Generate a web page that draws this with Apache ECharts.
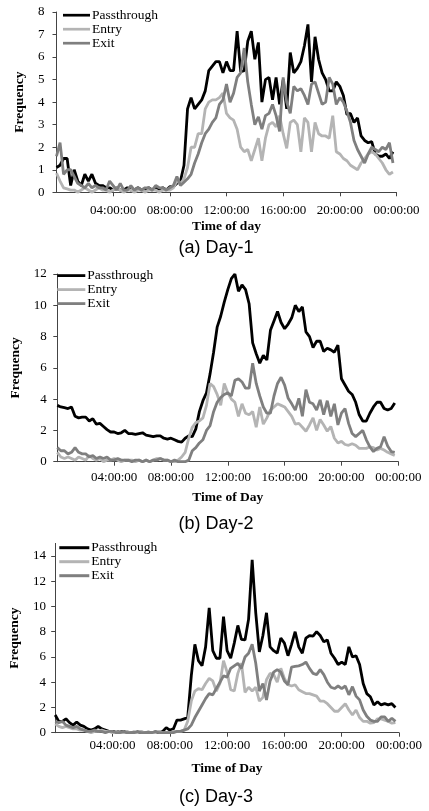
<!DOCTYPE html>
<html>
<head>
<meta charset="utf-8">
<script src="https://cdn.jsdelivr.net/npm/echarts@6/dist/echarts.min.js"></script>
<style>
  html, body { margin: 0; padding: 0; background: #fff; }
  #chart { width: 429px; height: 811px; }
</style>
</head>
<body>
<div id="chart"></div>
<script>
// 数据：每天 96 个 15 分钟时段
var seriesNames = ["Passthrough", "Entry", "Exit"];
var slotHours = 0.25;

var d1Pass = [1.1, 1.2, 1.5, 1.5, 0.3, 1.0, 0.5, 0.3, 0.8, 0.5, 0.8, 0.4, 0.3, 0.3, 0.2, 0.2,
  0.1, 0.2, 0.1, 0.1, 0.2, 0.1, 0.1, 0.2, 0.1, 0.1, 0.2, 0.1, 0.2, 0.1, 0.2, 0.1,
  0.25, 0.25, 0.4, 0.5, 1.2, 3.7, 4.2, 3.7, 3.9, 4.1, 4.5, 5.4, 5.6, 5.8, 5.8, 5.3,
  5.8, 5.4, 5.4, 7.15, 5.35, 5.4, 6.7, 7.15, 5.9, 6.65, 4.0, 5.0, 5.1, 4.1, 5.1, 3.9,
  5.0, 3.7, 6.2, 5.3, 5.5, 5.8, 6.5, 7.45, 4.9, 6.9, 5.9, 5.3, 5.0, 4.5, 4.5, 4.9,
  4.7, 4.3, 3.45, 3.5, 3.1, 3.3, 2.5, 2.3, 2.2, 2.25, 1.7, 1.6, 1.6, 1.7, 1.5, 1.8];
var d1Entry = [0.85, 0.5, 0.2, 0.15, 0.1, 0.1, 0.0, 0.1, 0.2, 0.1, 0.0, 0.1, 0.2, 0.1, 0.1, 0.0,
  0.1, 0.2, 0.1, 0.0, 0.1, 0.1, 0.0, 0.1, 0.1, 0.0, 0.1, 0.1, 0.1, 0.0, 0.1, 0.1,
  0.1, 0.2, 0.5, 0.4, 0.6, 1.1, 2.0, 2.0, 2.6, 2.6, 3.7, 4.0, 4.1, 4.1, 4.2, 4.4,
  3.5, 3.3, 3.2, 2.8, 2.0, 1.8, 1.9, 1.4, 1.9, 2.4, 1.4, 2.4, 3.0, 3.1, 2.9, 3.4,
  2.6, 1.95, 3.1, 3.2, 3.0, 1.8, 3.3, 3.1, 1.8, 3.1, 2.6, 2.5, 2.5, 2.4, 3.4, 1.8,
  1.7, 1.5, 1.4, 1.2, 1.1, 1.0, 1.3, 1.5, 1.7, 1.8, 1.7, 1.5, 1.3, 1.0, 0.8, 0.9];
var d1Exit = [1.6, 2.2, 0.8, 1.0, 1.0, 0.7, 0.4, 0.3, 0.2, 0.4, 0.2, 0.3, 0.2, 0.2, 0.1, 0.5,
  0.3, 0.1, 0.4, 0.1, 0.1, 0.3, 0.1, 0.2, 0.1, 0.2, 0.2, 0.1, 0.3, 0.2, 0.2, 0.1,
  0.2, 0.3, 0.7, 0.3, 0.45, 0.6, 0.8, 1.3, 1.7, 2.2, 2.6, 2.8, 3.1, 3.3, 3.9, 4.1,
  4.8, 4.0, 4.4, 5.1, 5.3, 6.4, 4.9, 3.9, 3.0, 3.35, 2.8, 3.4, 3.5, 3.9, 3.4, 2.7,
  5.1, 4.0, 3.5, 4.7, 4.5, 4.6, 4.3, 3.9, 4.8, 4.9, 4.4, 3.9, 4.0, 5.1, 4.8, 3.9,
  4.2, 4.0, 3.6, 3.1, 2.3, 1.9, 1.6, 1.3, 1.7, 2.0, 1.9, 1.8, 2.0, 1.9, 2.2, 1.3];

var d2Pass = [3.6, 3.5, 3.45, 3.4, 3.5, 2.9, 2.8, 2.85, 2.85, 2.6, 2.75, 2.4, 2.45, 2.25, 2.05, 1.9,
  1.9, 1.8, 1.85, 2.0, 1.8, 1.8, 1.75, 1.8, 1.85, 1.7, 1.65, 1.6, 1.65, 1.65, 1.5, 1.45,
  1.5, 1.4, 1.3, 1.25, 1.5, 1.65, 1.6, 2.1, 3.2, 3.9, 4.4, 5.6, 7.0, 8.6, 9.3, 10.2,
  11.0, 11.7, 12.0, 10.9, 11.3, 11.0, 10.1, 7.6, 6.9, 6.3, 6.8, 6.5, 8.4, 9.0, 9.6, 8.9,
  8.5, 8.8, 9.2, 10.0, 9.6, 9.9, 8.3, 8.0, 7.3, 7.7, 7.7, 7.05, 7.25, 7.15, 7.0, 7.45,
  5.3, 4.9, 4.5, 4.3, 3.8, 3.0, 2.6, 2.6, 3.1, 3.5, 3.8, 3.8, 3.4, 3.3, 3.4, 3.75];
var d2Entry = [0.6, 0.3, 0.2, 0.3, 0.2, 0.1, 0.3, 0.2, 0.1, 0.4, 0.2, 0.1, 0.2, 0.0, 0.1, 0.1,
  0.2, 0.1, 0.0, 0.1, 0.1, 0.1, 0.0, 0.1, 0.0, 0.1, 0.0, 0.1, 0.2, 0.2, 0.1, 0.1,
  0.0, 0.0, 0.1, 0.3, 0.6, 1.5, 2.2, 2.5, 2.6, 2.8, 3.6, 5.0, 4.8, 4.3, 3.6, 5.0,
  4.4, 4.0, 3.8, 2.9, 3.7, 3.1, 3.0, 3.2, 2.2, 3.5, 2.4, 2.8, 3.3, 3.5, 3.7, 3.6,
  3.5, 3.2, 2.9, 2.4, 2.45, 2.2, 1.95, 2.35, 2.8, 2.0, 2.7, 2.35, 1.95, 2.25, 1.5, 1.2,
  1.3, 1.1, 1.05, 1.15, 1.05, 0.85, 0.85, 0.85, 0.95, 0.9, 0.75, 0.85, 0.75, 0.6, 0.5, 0.4];
var d2Exit = [0.9, 0.7, 0.7, 0.5, 0.6, 0.9, 0.6, 0.5, 0.5, 0.3, 0.4, 0.2, 0.3, 0.2, 0.3, 0.1,
  0.1, 0.2, 0.1, 0.1, 0.1, 0.0, 0.1, 0.1, 0.0, 0.1, 0.0, 0.1, 0.1, 0.2, 0.1, 0.1,
  0.0, 0.1, 0.0, 0.0, 0.0, 0.1, 0.7, 0.9, 1.2, 1.4, 2.0, 2.3, 3.2, 3.8, 4.1, 4.3,
  4.4, 4.2, 5.2, 5.3, 5.1, 4.7, 4.7, 6.3, 5.0, 4.2, 3.5, 3.1, 3.1, 4.2, 5.0, 5.4,
  4.9, 4.05, 3.7, 3.3, 4.05, 2.9, 4.6, 3.8, 3.7, 3.3, 3.95, 3.0, 3.9, 2.9, 3.7, 2.35,
  3.1, 3.4, 2.45, 1.8, 1.6, 1.8, 2.0, 1.4, 0.95, 0.65, 0.85, 0.95, 1.6, 1.0, 0.65, 0.6];

var d3Pass = [1.4, 0.9, 0.9, 1.1, 0.8, 0.6, 0.85, 0.6, 0.5, 0.3, 0.2, 0.3, 0.5, 0.3, 0.2, 0.1,
  0.1, 0.1, 0.05, 0.1, 0.05, 0.0, 0.05, 0.0, 0.05, 0.0, 0.05, 0.0, 0.05, 0.0, 0.1, 0.4,
  0.2, 0.3, 1.0, 1.0, 1.1, 1.2, 4.5, 7.0, 5.7, 5.3, 6.8, 9.9, 6.5, 5.9, 5.9, 9.2,
  6.5, 5.9, 7.1, 8.5, 7.4, 7.35, 9.0, 13.7, 9.5, 6.4, 7.7, 9.5, 6.8, 6.5, 6.3, 7.5,
  7.1, 6.1, 7.0, 8.0, 6.8, 6.3, 7.5, 7.7, 7.65, 8.0, 7.7, 7.2, 7.35, 6.3, 5.9, 5.4,
  5.6, 5.4, 6.8, 6.0, 6.1, 5.4, 3.9, 3.1, 2.85, 2.2, 2.45, 2.2, 2.3, 2.2, 2.3, 2.0];
var d3Entry = [0.7, 0.5, 0.4, 0.5, 0.4, 0.3, 0.3, 0.2, 0.2, 0.1, 0.0, 0.1, 0.1, 0.2, 0.1, 0.1,
  0.0, 0.1, 0.0, 0.0, 0.1, 0.0, 0.0, 0.0, 0.1, 0.0, 0.0, 0.0, 0.0, 0.1, 0.0, 0.0,
  0.0, 0.1, 0.1, 0.1, 0.2, 0.9, 2.5, 3.3, 3.5, 3.4, 3.9, 4.3, 4.1, 3.3, 3.9, 5.7,
  4.8, 3.4, 3.3, 4.7, 5.5, 3.2, 3.6, 3.3, 3.6, 2.5, 2.8, 4.2, 4.7, 4.6, 4.0, 5.1,
  4.3, 3.8, 3.7, 3.8, 3.4, 3.25, 3.1, 3.1, 3.0, 2.9, 2.5, 2.5, 2.3, 2.0, 1.7, 1.7,
  2.0, 2.3, 1.8, 1.4, 1.8, 1.2, 0.9, 0.9, 0.75, 0.8, 1.1, 1.1, 1.0, 0.9, 0.75, 0.8];
var d3Exit = [0.9, 0.8, 0.9, 0.6, 0.5, 0.4, 0.5, 0.3, 0.2, 0.1, 0.1, 0.2, 0.1, 0.1, 0.0, 0.1,
  0.1, 0.0, 0.0, 0.1, 0.0, 0.0, 0.0, 0.1, 0.0, 0.0, 0.0, 0.0, 0.1, 0.0, 0.0, 0.0,
  0.0, 0.0, 0.1, 0.1, 0.2, 0.3, 0.6, 1.2, 1.7, 2.2, 2.7, 3.1, 3.0, 3.5, 4.0, 4.5,
  4.4, 5.1, 5.3, 5.5, 5.1, 6.0, 6.3, 7.0, 5.5, 3.3, 3.9, 2.6, 4.1, 4.8, 5.0, 4.8,
  4.1, 3.8, 5.2, 5.25, 5.3, 5.4, 5.6, 5.1, 4.7, 4.6, 5.0, 4.6, 4.0, 3.6, 3.5, 3.7,
  3.5, 3.7, 3.0, 3.65, 2.9, 2.6, 1.8, 1.3, 1.0, 0.9, 0.9, 1.25, 1.25, 0.9, 1.15, 0.9];

// 坐标轴刻度
var xTickStep = 4;      // 小时
var y1Max = 8, y1Step = 1;
var y2Max = 12, y2Step = 2;
var y3Max = 15, y3Ticks = [0, 2, 4, 6, 8, 10, 12, 14];

var xNames = ["Time of day", "Time of Day", "Time of Day"];
var captions = ["(a) Day-1", "(b) Day-2", "(c) Day-3"];

(function() {
  var myChart = echarts.init(document.getElementById("chart"));

  var serif = "Liberation Serif";
  var colors = ["#000000", "#b4b4b4", "#7f7f7f"];
  var axisColor = "#444";
  var days = [[d1Pass, d1Entry, d1Exit], [d2Pass, d2Entry, d2Exit], [d3Pass, d3Entry, d3Exit]];

  // 版面位置（像素）
  var grids = [
    { left: 56.5, top: 12, width: 340, height: 180.3 },
    { left: 57.3, top: 274, width: 341, height: 187.7 },
    { left: 54.3, top: 543.4, width: 344.7, height: 189.3 }
  ];
  var legends = [
    { left: 63, top: 8.2, itemWidth: 27, itemHeight: 13.7 },
    { left: 57.3, top: 268.6, itemWidth: 28, itemHeight: 14.8 },
    { left: 59.3, top: 540.7, itemWidth: 30, itemHeight: 14 }
  ];
  var xLabelMargin = [12, 9, 6.5];
  var xNameGap = [27, 28.5, 29];
  var yLabelMargin = [12, 10.6, 9.3];
  var captionY = [248.5, 524, 797];

  function toPoints(values) {
    return values.map(function(v, i) { return [i * slotHours, v]; });
  }

  function timeLabel(v) {
    var h = v % 24;
    return (h < 10 ? "0" : "") + h + ":00:00";
  }

  var option = {
    animation: false,
    backgroundColor: "#fff",
    grid: [],
    xAxis: [],
    yAxis: [],
    legend: [],
    series: [],
    graphic: []
  };

  var yMaxes = [y1Max, y2Max, y3Max];
  var ySteps = [y1Step, y2Step, 2];

  for (var k = 0; k < 3; k++) {
    option.grid.push(grids[k]);

    option.xAxis.push({
      gridIndex: k,
      type: "value",
      min: 0,
      max: 24,
      interval: xTickStep,
      name: xNames[k],
      nameLocation: "middle",
      nameGap: xNameGap[k],
      nameTextStyle: { fontFamily: serif, fontWeight: "bold", fontSize: 13.5, color: "#000" },
      axisLine: { lineStyle: { color: axisColor, width: 1 } },
      axisTick: { length: 4, lineStyle: { color: axisColor } },
      axisLabel: {
        showMinLabel: false,
        margin: xLabelMargin[k],
        fontFamily: serif,
        fontSize: 13,
        color: "#000",
        formatter: timeLabel
      },
      splitLine: { show: false }
    });

    var yAxis = {
      gridIndex: k,
      type: "value",
      min: 0,
      max: yMaxes[k],
      interval: ySteps[k],
      name: "Frequency",
      nameLocation: "middle",
      nameGap: 30,
      nameTextStyle: { fontFamily: serif, fontWeight: "bold", fontSize: 13.5, color: "#000" },
      axisLine: { show: true, lineStyle: { color: axisColor, width: 1 } },
      axisTick: { show: true, length: 4, lineStyle: { color: axisColor } },
      axisLabel: { margin: yLabelMargin[k], fontFamily: serif, fontSize: 13, color: "#000" },
      splitLine: { show: false }
    };
    if (k === 2) {
      yAxis.axisLabel.customValues = y3Ticks;
      yAxis.axisTick.customValues = y3Ticks;
    }
    option.yAxis.push(yAxis);

    option.legend.push({
      orient: "vertical",
      left: legends[k].left,
      top: legends[k].top,
      padding: 0,
      itemGap: 0,
      itemWidth: legends[k].itemWidth,
      itemHeight: legends[k].itemHeight,
      icon: "path://M0,0H30V3H0Z",
      textStyle: { fontFamily: serif, fontSize: 13.5, color: "#000", padding: [0, 0, 0, -3] },
      data: seriesNames
    });

    for (var s = 0; s < 3; s++) {
      option.series.push({
        name: seriesNames[s],
        type: "line",
        xAxisIndex: k,
        yAxisIndex: k,
        symbol: "none",
        color: colors[s],
        lineStyle: { color: colors[s], width: 2.8 },
        data: toPoints(days[k][s])
      });
    }

    option.graphic.push({
      type: "text",
      x: 216,
      y: captionY[k],
      style: {
        text: captions[k],
        fontFamily: "Liberation Sans",
        fontSize: 18,
        fill: "#000",
        align: "center",
        verticalAlign: "middle"
      }
    });
  }

  myChart.setOption(option);
})();
</script>
</body>
</html>
